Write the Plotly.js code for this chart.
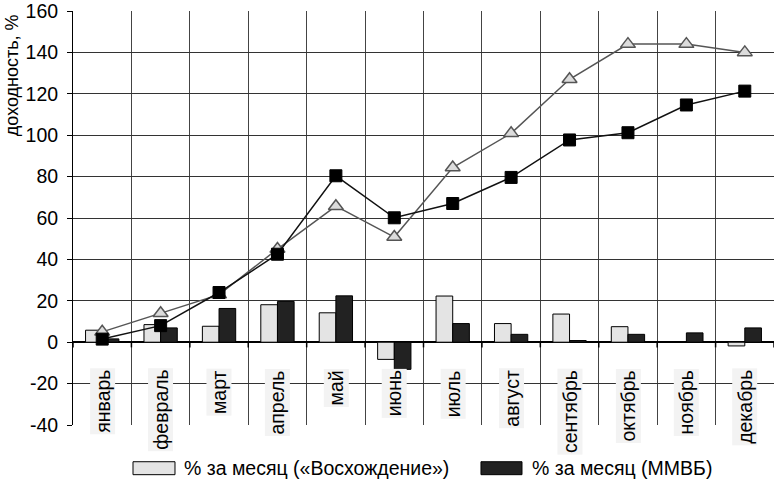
<!DOCTYPE html>
<html>
<head>
<meta charset="utf-8">
<script src="https://cdn.plot.ly/plotly-3.0.1.min.js"></script>
<style>html,body{margin:0;padding:0;background:#fff;}#chart{width:775px;height:485px;}</style>
</head>
<body>
<div id="chart"></div>
<script>
const months = ["январь","февраль","март","апрель","май","июнь","июль","август","сентябрь","октябрь","ноябрь","декабрь"];
const monthlyVoskh = [5.8, 8.5, 7.7, 18.1, 14.2, -8.3, 22.3, 9.0, 13.6, 7.5, 0, -1.8];
const monthlyMICEX = [1.6, 6.9, 16.3, 19.7, 22.4, -13.1, 9.0, 3.8, 0.8, 3.8, 4.5, 6.9];
const cumVoskh = [5.0, 14.0, 23.0, 45.0, 65.7, 50.8, 84.4, 100.9, 127.0, 144.0, 144.0, 140.0];
const cumMICEX = [1.5, 8.0, 24.0, 42.5, 80.4, 60.1, 67.0, 79.6, 97.7, 101.2, 114.6, 121.3];
const yTickVals = [-40, -20, 0, 20, 40, 60, 80, 100, 120, 140, 160];
const yTickText = ["-40", "-20", "0", "20", "40", "60", "80", "100", "120", "140", "160"];
const legendNames = ["% за месяц («Восхождение»)", "% за месяц (ММВБ)"];
const yTitle = "доходность, %";

const greyFill = "#e4e4e4";
const darkFill = "#222222";
const FONT = "Liberation Sans, Arial, sans-serif";

const traces = [
  {type:"bar", x:months, y:monthlyVoskh, name:legendNames[0],
   marker:{color:greyFill, line:{color:"#000", width:1}}, showlegend:false},
  {type:"bar", x:months, y:monthlyMICEX, name:legendNames[1],
   marker:{color:darkFill, line:{color:"#000", width:1}}, showlegend:false},
  {type:"scatter", mode:"lines+markers", x:months, y:cumVoskh, showlegend:false,
   line:{color:"#555", width:1.5},
   marker:{symbol:"triangle-up", size:13, color:"#dcdcdc", line:{color:"#555", width:1.5}}},
  {type:"scatter", mode:"lines+markers", x:months, y:cumMICEX, showlegend:false,
   line:{color:"#111", width:1.5},
   marker:{symbol:"square", size:12, color:"#000", line:{color:"#000", width:1}}}
];

const annotations = months.map(m => ({
  x:m, xref:"x", y:-12.5, yref:"y", yanchor:"top", xanchor:"center",
  text:m, textangle:-90, showarrow:false, bgcolor:"#f3f3f3", borderpad:1,
  font:{family:FONT, size:19.5, color:"#000"}
}));
annotations.push({
  xref:"paper", yref:"paper", x:-0.087, y:0.845, text:yTitle, textangle:-90,
  showarrow:false, xanchor:"center", yanchor:"middle", font:{family:FONT, size:18, color:"#000"}
});
annotations.push({
  xref:"paper", yref:"paper", x:0.1555, y:-0.104, text:legendNames[0], showarrow:false,
  xanchor:"left", yanchor:"middle", font:{family:FONT, size:19.5, color:"#000"}
});
annotations.push({
  xref:"paper", yref:"paper", x:0.652, y:-0.104, text:legendNames[1], showarrow:false,
  xanchor:"left", yanchor:"middle", font:{family:FONT, size:19.5, color:"#000"}
});

const shapes = [
  {type:"rect", xref:"paper", yref:"paper", x0:0.0856, x1:0.1455, y0:-0.12, y1:-0.0887,
   fillcolor:greyFill, line:{color:"#000", width:1}},
  {type:"rect", xref:"paper", yref:"paper", x0:0.582, x1:0.6405, y0:-0.12, y1:-0.0887,
   fillcolor:darkFill, line:{color:"#000", width:1}}
];
// small tick marks under the zero line at the category boundaries
for (let i = 0; i <= months.length; i++) {
  shapes.push({type:"line", xref:"x", yref:"y", x0:i-0.5, x1:i-0.5, y0:0, y1:-2.5,
    line:{color:"#000", width:1.5}});
}

const layout = {
  width:775, height:485,
  margin:{l:73, r:1, t:11, b:60},
  paper_bgcolor:"#fff", plot_bgcolor:"#fff",
  font:{family:FONT, size:18, color:"#000"},
  barmode:"group", bargap:0.43, bargroupgap:0,
  showlegend:false,
  xaxis:{type:"category", tickson:"boundaries", showgrid:true, gridcolor:"#444", gridwidth:1,
    showticklabels:false, ticks:"", showline:false, zeroline:false,
    range:[-0.5, 11.5], autorange:false},
  yaxis:{range:[-40,160], autorange:false, tickmode:"array", tickvals:yTickVals, ticktext:yTickText,
    showgrid:true, gridcolor:"#333", gridwidth:1,
    zeroline:true, zerolinecolor:"#000", zerolinewidth:1.5,
    showline:true, linecolor:"#000", linewidth:1, ticks:"outside", ticklen:5, tickcolor:"#000",
    ticklabelstandoff:5, ticklabeloverflow:"allow",
    tickfont:{family:FONT, size:19.5, color:"#000"}},
  annotations:annotations,
  shapes:shapes
};

Plotly.newPlot("chart", traces, layout, {displayModeBar:false});
</script>
</body>
</html>
